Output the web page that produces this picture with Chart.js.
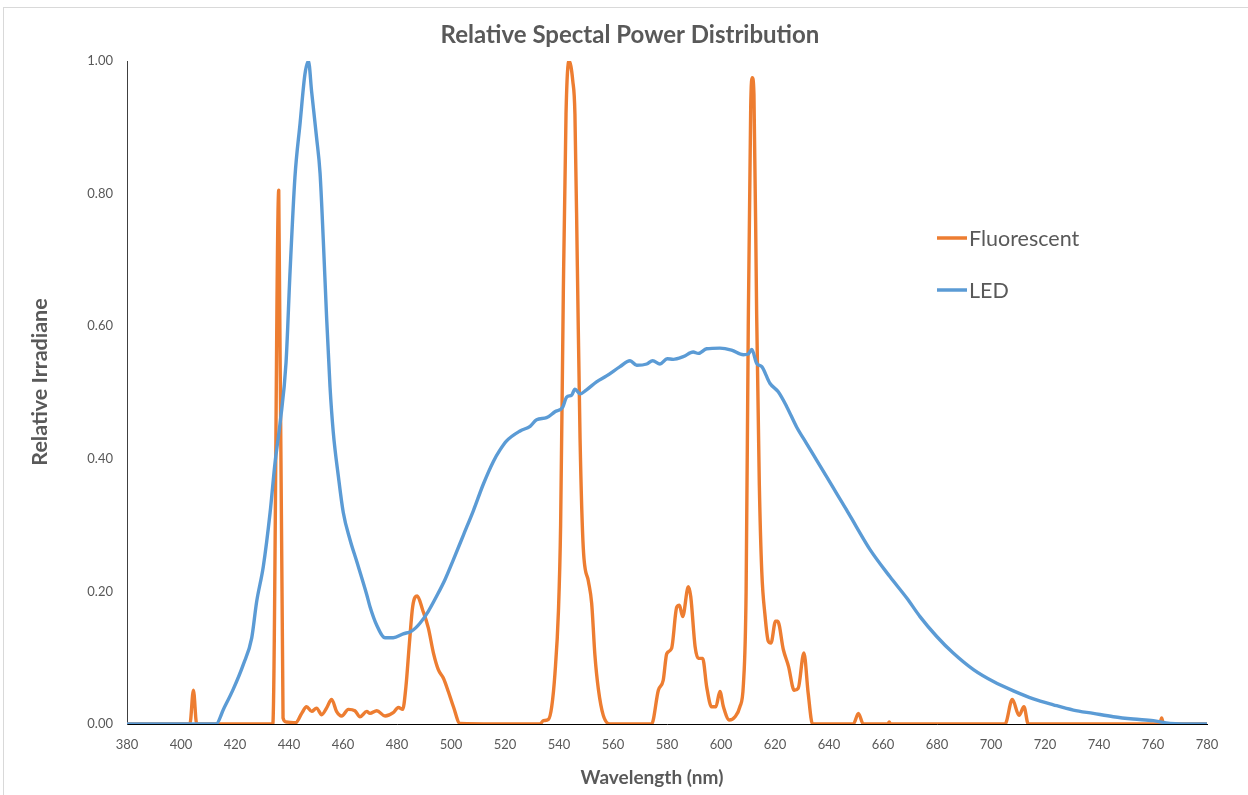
<!DOCTYPE html>
<html>
<head>
<meta charset="utf-8">
<title>Relative Spectal Power Distribution</title>
<script src="https://cdn.jsdelivr.net/npm/chart.js@4.4.1/dist/chart.umd.min.js"></script>
<style>
  html, body { margin: 0; padding: 0; background: #fff; }
  #wrap { width: 1248px; height: 795px; position: relative; }
</style>
</head>
<body>
<div id="wrap"><canvas id="spdChart"></canvas></div>
<script>
// wavelength (nm) / relative value pairs
const fluorescentNm = [
  380, 403.3, 404.6, 405.8, 434, 436.2, 437.8, 439, 442.5, 444.7, 446.5, 448.4, 450.2, 452.1,
  453.9, 455.8, 457.6, 459.5, 462, 464.4, 466.3, 468.8, 470, 472.5, 475.6, 478.6, 480.5, 482.1,
  483.3, 484.6, 485.8, 487.5, 489.5, 491.6, 493.5, 495.3, 497.2, 499, 500.9, 503.3, 533,
  534.2, 536.1, 537.3, 538.5, 539.8, 540.6, 541.6, 542.6, 543.7, 545.1, 545.9, 546.8, 547.8,
  549, 550.9, 552.1, 553.3, 554.6, 556.4, 558.9, 574.3, 576.8, 578.6, 579.9, 581.7, 583.6,
  584.6, 585.8, 587.9, 588.8, 590.4, 591.6, 593.2, 594.7, 596.5, 598.1, 599.6, 600.9, 603.1,
  605.2, 607, 608.3, 609.3, 610.1, 611, 611.6, 612.2, 613.2, 614.2, 615.1, 616.3, 617.5,
  618.5, 620.2, 621, 623.1, 625, 627.1, 628.6, 630.7, 632.3, 633.9, 649, 650.9, 652.7, 661.8,
  662.3, 662.8, 705.2, 707.9, 710.4, 712.2, 713.8, 762.5, 763.2, 763.9, 780
];
const fluorescentVal = [
  0, 0, 0.051, 0, 0, 0.805, 0.009, 0.003, 0.002, 0.016, 0.026, 0.019, 0.024, 0.014,
  0.024, 0.037, 0.019, 0.012, 0.022, 0.02, 0.011, 0.019, 0.016, 0.02, 0.012, 0.017, 0.025, 0.022,
  0.056, 0.122, 0.177, 0.193, 0.172, 0.145, 0.107, 0.082, 0.069, 0.049, 0.026, 0.001, 0,
  0.005, 0.007, 0.026, 0.076, 0.171, 0.3, 0.65, 0.92, 1.0, 0.97, 0.92, 0.69, 0.43,
  0.265, 0.215, 0.182, 0.104, 0.052, 0.013, 0, 0, 0.051, 0.066, 0.106, 0.114, 0.176,
  0.179, 0.162, 0.207, 0.192, 0.117, 0.099, 0.099, 0.056, 0.026, 0.026, 0.049, 0.026, 0.006,
  0.011, 0.026, 0.06, 0.2, 0.6, 0.93, 0.975, 0.95, 0.62, 0.36, 0.23, 0.164, 0.125,
  0.122, 0.155, 0.155, 0.112, 0.087, 0.051, 0.054, 0.107, 0.046, 0, 0, 0.016, 0, 0,
  0.003, 0, 0, 0.037, 0.013, 0.026, 0, 0, 0.009, 0, 0
];

const ledNm = [
  380, 413, 415.7, 419.4, 423.1, 426.2, 428, 430.5, 433, 434.8, 436.7, 438.9, 440.4, 442.2,
  444.1, 445.9, 447.2, 448.4, 450.2, 451.5, 452.7, 453.9, 455.2, 456.4, 458.3, 460.1, 462.6,
  465.1, 468.8, 470, 472.5, 475.6, 478.6, 482.3, 485.4, 488.5, 491.6, 494.7, 497.8, 500.9,
  504.6, 508.3, 512, 515.7, 518.1, 520.6, 525.6, 529.3, 531.7, 535.4, 538.5, 541.4, 542.8,
  544.7, 545.9, 547.8, 550.2, 553.9, 557.6, 562.6, 566.3, 568.8, 572.5, 574.7, 577.4, 580.1,
  582.3, 586, 589.7, 591.6, 594.7, 599.6, 603.9, 608.3, 610.1, 611.4, 613.2, 615.1, 618.1,
  621.2, 624.3, 628, 631.7, 635.4, 639.1, 642.8, 646.5, 650.2, 655.2, 662.6, 668.8, 673.7,
  679.9, 686, 693.5, 700.9, 708.3, 715.7, 723.1, 730.5, 737.9, 745.3, 752.7, 760.1, 766.3, 780
];
const ledVal = [
  0, 0, 0.022, 0.053, 0.09, 0.13, 0.184, 0.238, 0.319, 0.393, 0.454, 0.545, 0.683, 0.825,
  0.906, 0.98, 1.0, 0.953, 0.885, 0.831, 0.73, 0.616, 0.508, 0.44, 0.373, 0.319, 0.278,
  0.245, 0.195, 0.177, 0.149, 0.13, 0.13, 0.136, 0.14, 0.152, 0.17, 0.193, 0.218, 0.248,
  0.285, 0.322, 0.362, 0.396, 0.413, 0.427, 0.442, 0.449, 0.459, 0.462, 0.471, 0.478, 0.493,
  0.496, 0.505, 0.498, 0.504, 0.516, 0.525, 0.539, 0.548, 0.541, 0.543, 0.548, 0.543, 0.551,
  0.55, 0.554, 0.561, 0.559, 0.566, 0.567, 0.564, 0.557, 0.558, 0.565, 0.544, 0.539, 0.514,
  0.501, 0.479, 0.448, 0.423, 0.398, 0.373, 0.348, 0.323, 0.297, 0.263, 0.222, 0.19, 0.162,
  0.132, 0.107, 0.082, 0.064, 0.05, 0.038, 0.029, 0.021, 0.016, 0.011, 0.0075, 0.005, 0.001, 0
];

const seriesNames = ["Fluorescent", "LED"];
const seriesColors = ["#ED7D31", "#5B9BD5"];

const chartTitle = "Relative Spectal Power Distribution";
const xTitle = "Wavelength (nm)";
const yTitle = "Relative Irradiane";

const textGray = "#595959";
const baseFont = "Lato, 'Open Sans', sans-serif";

function toPoints(xs, ys) {
  return xs.map((x, i) => ({ x: x, y: ys[i] }));
}

// frame, titles and the legend inside the plot
const decorPlugin = {
  id: "decor",
  beforeDraw(chart) {
    const ctx = chart.ctx;
    ctx.save();
    ctx.fillStyle = "#fff";
    ctx.fillRect(0, 0, chart.width, chart.height);
    ctx.strokeStyle = "#d9d9d9";
    ctx.lineWidth = 1;
    ctx.strokeRect(3.5, 7.5, chart.width, chart.height);
    ctx.restore();
  },
  afterDraw(chart) {
    const ctx = chart.ctx;
    ctx.save();
    ctx.fillStyle = textGray;
    ctx.textAlign = "center";
    ctx.textBaseline = "middle";

    ctx.font = "bold 24px " + baseFont;
    ctx.fillText(chartTitle, 630, 35);

    ctx.font = "bold 19px " + baseFont;
    ctx.fillText(xTitle, 652, 778);

    ctx.save();
    ctx.translate(40, 382);
    ctx.rotate(-Math.PI / 2);
    ctx.font = "bold 21.5px " + baseFont;
    ctx.fillText(yTitle, 0, 0);
    ctx.restore();

    ctx.textAlign = "left";
    ctx.font = "21.5px " + baseFont;
    chart.data.datasets.forEach((ds, i) => {
      const y = 238 + i * 52;
      ctx.strokeStyle = ds.borderColor;
      ctx.lineWidth = 3.5;
      ctx.beginPath();
      ctx.moveTo(937, y);
      ctx.lineTo(967, y);
      ctx.stroke();
      ctx.fillText(ds.label, 969, y + 1);
    });
    ctx.restore();
  }
};

new Chart(document.getElementById("spdChart"), {
  type: "line",
  data: {
    datasets: [
      {
        label: seriesNames[0],
        data: toPoints(fluorescentNm, fluorescentVal),
        borderColor: seriesColors[0],
        order: 1
      },
      {
        label: seriesNames[1],
        data: toPoints(ledNm, ledVal),
        borderColor: seriesColors[1],
        order: 0
      }
    ]
  },
  options: {
    responsive: true,
    maintainAspectRatio: false,
    animation: false,
    events: [],
    elements: {
      line: { borderWidth: 3.4, cubicInterpolationMode: "monotone", borderCapStyle: "round", borderJoinStyle: "round" },
      point: { radius: 0 }
    },
    layout: { padding: { left: 0, right: 41, top: 61, bottom: 0 } },
    plugins: {
      legend: { display: false },
      tooltip: { enabled: false },
      title: { display: false }
    },
    scales: {
      x: {
        type: "linear",
        min: 380,
        max: 780,
        grid: { display: false, drawTicks: false },
        border: { display: true, color: "#000", width: 1 },
        ticks: {
          stepSize: 20,
          padding: 13,
          color: textGray,
          font: { family: baseFont, size: 13 },
          maxRotation: 0,
          callback: v => String(v)
        },
        afterFit: s => { s.height = 71; }
      },
      y: {
        min: 0,
        max: 1,
        grid: { display: false, drawTicks: false },
        border: { display: true, color: "#404040", width: 1 },
        ticks: {
          stepSize: 0.2,
          padding: 14,
          color: textGray,
          font: { family: baseFont, size: 13 },
          callback: v => v.toFixed(2)
        },
        afterFit: s => { s.width = 127; }
      }
    }
  },
  plugins: [decorPlugin]
});
</script>
</body>
</html>
